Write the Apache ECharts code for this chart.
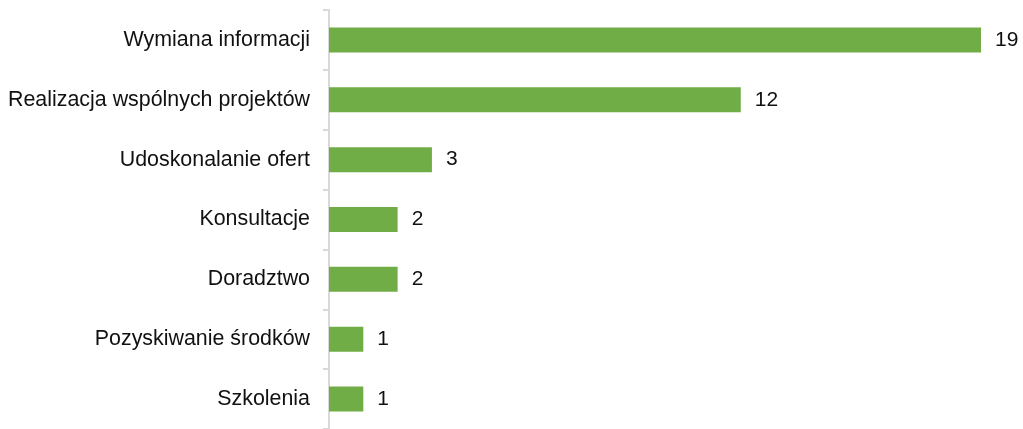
<!DOCTYPE html>
<html>
<head>
<meta charset="utf-8">
<script src="https://cdn.jsdelivr.net/npm/echarts@6/dist/echarts.min.js"></script>
<style>
  html, body { margin: 0; padding: 0; background: #fff; }
  #chart { width: 1023px; height: 429px; }
</style>
</head>
<body>
<div id="chart"></div>
<script>
// dane (od góry do dołu)
var categories = [
  "Wymiana informacji",
  "Realizacja wspólnych projektów",
  "Udoskonalanie ofert",
  "Konsultacje",
  "Doradztwo",
  "Pozyskiwanie środków",
  "Szkolenia"
];
var values = [19, 12, 3, 2, 2, 1, 1];

var chart = echarts.init(document.getElementById("chart"));
chart.setOption({
  backgroundColor: "#ffffff",
  animation: false,
  grid: {
    left: 329,
    right: 42,
    top: 10,
    bottom: 0,
    containLabel: false
  },
  xAxis: {
    type: "value",
    min: 0,
    max: 19,
    show: false
  },
  yAxis: {
    type: "category",
    inverse: true,
    data: categories,
    axisLine: {
      lineStyle: { color: "#d9d9d9", width: 2 }
    },
    axisTick: {
      show: true,
      length: 6,
      lineStyle: { color: "#d9d9d9", width: 2 }
    },
    axisLabel: {
      margin: 19,
      color: "#111",
      fontSize: 21.4,
      fontFamily: "Liberation Sans, Arial, sans-serif"
    }
  },
  series: [
    {
      type: "bar",
      data: values,
      barWidth: 25,
      itemStyle: { color: "#70ad47" },
      label: {
        show: true,
        position: "right",
        distance: 14,
        color: "#111",
        fontSize: 21,
        fontFamily: "Liberation Sans, Arial, sans-serif"
      }
    }
  ]
});
</script>
</body>
</html>
